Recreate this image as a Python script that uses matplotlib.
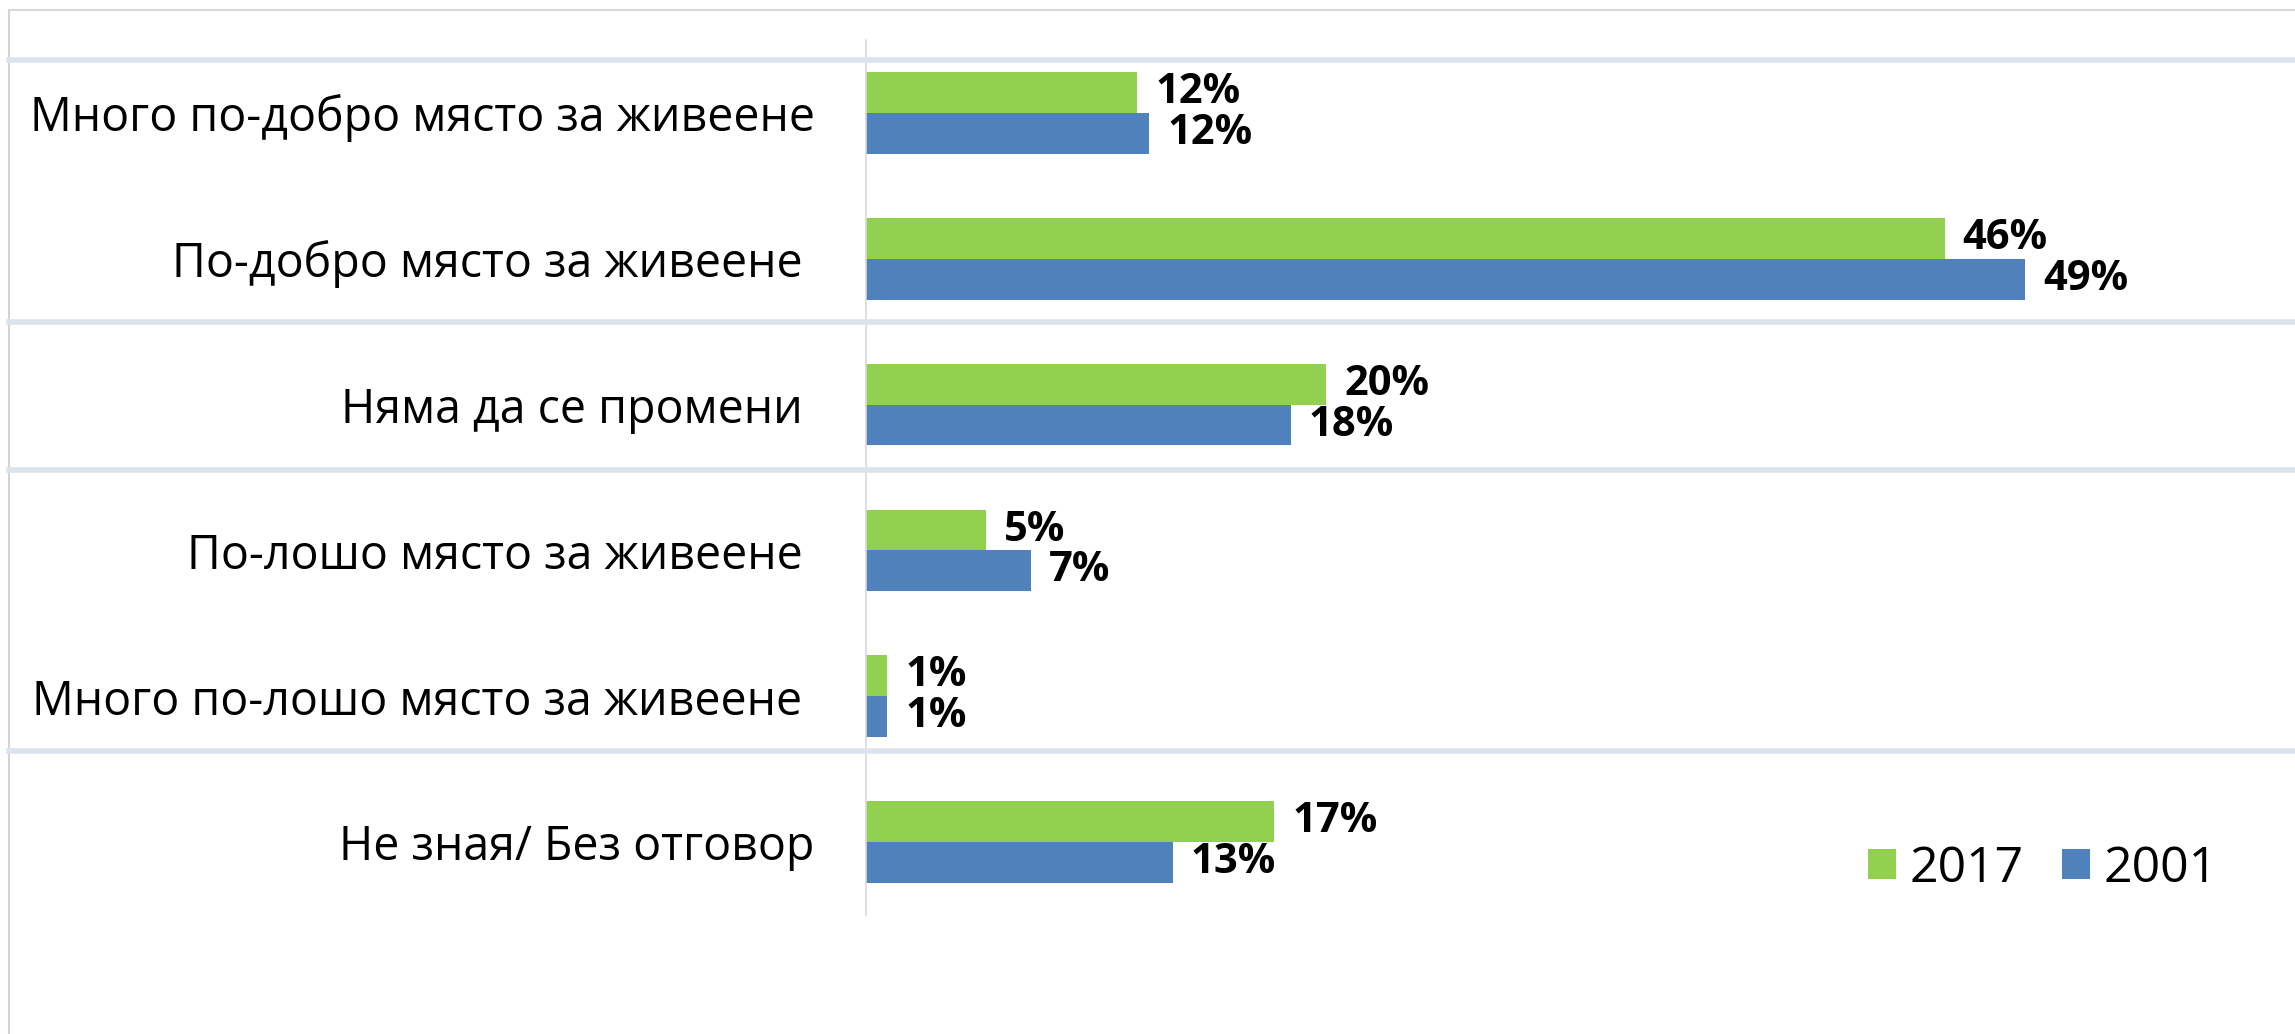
import matplotlib.pyplot as plt
from matplotlib.lines import Line2D
import numpy as np

# Survey answers, top to bottom (trailing spaces as in the original labels)
categories = [
    'Много по-добро място за живеене',
    'По-добро място за живеене ',
    'Няма да се промени ',
    'По-лошо място за живеене ',
    'Много по-лошо място за живеене ',
    'Не зная/ Без отговор',
]
values_2017 = [11.5, 45.7, 19.5, 5.1, 0.9, 17.3]
values_2001 = [12.0, 49.1, 18.0, 7.0, 0.9, 13.0]
series_names = ['2017', '2001']

green = '#92d050'
blue = '#4f81bd'
font = 'Open Sans'

W, H = 2295, 1034
fig = plt.figure(figsize=(W / 100, H / 100), dpi=100)
fig.patch.set_facecolor('white')

# axes area placed in pixels of the original
ax = fig.add_axes([866 / W, 1 - 915 / H, 1416 / W, 875 / H])

pos = np.arange(len(categories))
bh = 0.28
b1 = ax.barh(pos - bh / 2, values_2017, height=bh, color=green, label=series_names[0])
b2 = ax.barh(pos + bh / 2, values_2001, height=bh, color=blue, label=series_names[1])

for bars, vals in [(b1, values_2017), (b2, values_2001)]:
    ax.bar_label(bars, labels=[f'{v:.0f}%' for v in vals], padding=13,
                 fontsize=30, fontweight='bold', family=font, color='black')

ax.set_xlim(0, 60)
ax.set_ylim(len(categories) - 0.5, -0.5)
ax.set_yticks(pos)
ax.set_yticklabels(categories, fontsize=33.5, family=font, color='black')
ax.tick_params(axis='y', length=0, pad=37)
ax.set_xticks([])
for s in ['top', 'right', 'bottom']:
    ax.spines[s].set_visible(False)
ax.spines['left'].set_color('#d9d9d9')
ax.spines['left'].set_linewidth(1.2)

# frame and table separators behind the chart
fig.add_artist(Line2D([9 / W, 1], [1 - 10 / H, 1 - 10 / H], color='#d9d9d9', lw=1.5))
fig.add_artist(Line2D([9 / W, 9 / W], [0, 1 - 10 / H], color='#d4d4d4', lw=1.5))
for yy in [60, 322, 470, 751]:
    fig.add_artist(Line2D([9 / W, 1], [1 - yy / H, 1 - yy / H], color='#dce3ec', lw=4))

leg = ax.legend(loc='center left', bbox_to_anchor=(1868 / W, 1 - 869 / H),
                bbox_transform=fig.transFigure, ncol=2, frameon=False,
                prop={'family': font, 'size': 36}, handlelength=0.56,
                handleheight=0.56, handletextpad=0.26, columnspacing=0.78,
                borderpad=0, borderaxespad=0)

fig.savefig('out.png', dpi=100, facecolor='white')
